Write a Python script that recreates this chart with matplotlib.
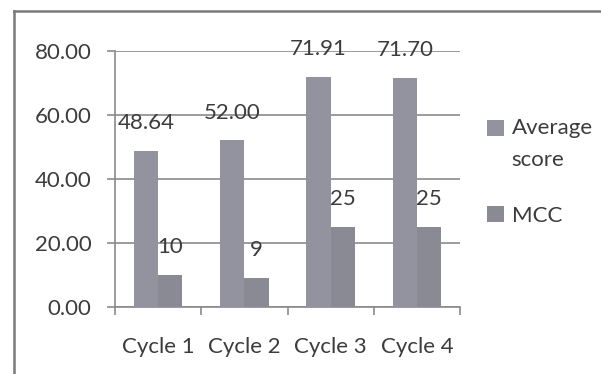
import numpy as np
import matplotlib
matplotlib.use("Agg")
import matplotlib.pyplot as plt
from matplotlib.lines import Line2D
from matplotlib.patches import Rectangle
from matplotlib.legend_handler import HandlerPatch, update_from_first_child

cycles = ["Cycle 1", "Cycle 2", "Cycle 3", "Cycle 4"]
avg_score = [48.64, 52.00, 71.91, 71.70]
mcc = [10, 9, 25, 25]
avg_labels = ["48.64", "52.00", "71.91", "71.70"]
mcc_labels = ["10", "9", "25", "25"]
y_ticks = [0, 20, 40, 60, 80]

plt.rcParams['font.family'] = ['Lato', 'DejaVu Sans']
txt = '#3c3c3c'
fs = 16

fig = plt.figure(figsize=(6.01, 3.74), dpi=100)
ax = fig.add_axes([115/601, 1-306.7/374, 345/601, (306.7-51)/374])

x = np.arange(len(cycles))
w = 0.28
b1 = ax.bar(x - w/2, avg_score, w, color='#93939f', label='Average\nscore', zorder=3)
b2 = ax.bar(x + w/2, mcc, w, color='#8a8a95', label='MCC', zorder=3)

# data labels above the bars
for xi, v, s in zip(x - w/2, avg_score, avg_labels):
    ax.annotate(s, (xi, v), xytext=(0, 20), textcoords='offset points',
                ha='center', va='center', fontsize=fs, color=txt, zorder=4)
for xi, v, s in zip(x + w/2, mcc, mcc_labels):
    ax.annotate(s, (xi, v), xytext=(0, 20), textcoords='offset points',
                ha='center', va='center', fontsize=fs, color=txt, zorder=4)

ax.set_xlim(-0.5, 3.5)
ax.set_ylim(0, 80)
ax.set_yticks(y_ticks)
ax.set_yticklabels([f"{t:.2f}" for t in y_ticks])
ax.yaxis.grid(True, color='#8a8a8a', lw=1.2, zorder=0)
ax.tick_params(axis='y', length=6, width=1.2, color='#8a8a8a', pad=11, labelsize=fs, labelcolor=txt)

# category ticks between groups, labels at centers
ax.set_xticks(np.arange(-0.5, 4, 1))
ax.set_xticklabels([])
ax.set_xticks(x, minor=True)
ax.set_xticklabels(cycles, minor=True)
ax.tick_params(axis='x', which='major', length=6, width=1.2, color='#8a8a8a')
ax.tick_params(axis='x', which='minor', length=0, pad=22, labelsize=fs, labelcolor=txt)

for sp in ['top', 'right']:
    ax.spines[sp].set_visible(False)
for sp in ['left', 'bottom']:
    ax.spines[sp].set_color('#8a8a8a')
    ax.spines[sp].set_linewidth(1.2)

# square next to the first line of a two-line label
def top_square(legend, orig_handle, xdescent, ydescent, width, height, fontsize):
    return Rectangle((-xdescent, -ydescent + 12), width, height)

leg = ax.legend(handles=[b1, b2], loc='upper left', frameon=False, borderpad=0,
                bbox_to_anchor=(476/601, 1-107/374), bbox_transform=fig.transFigure,
                fontsize=fs, labelcolor=txt, handlelength=0.75, handleheight=0.75,
                handletextpad=0.35, labelspacing=1.6,
                handler_map={b1: HandlerPatch(patch_func=top_square,
                                              update_func=update_from_first_child)})
for t in leg.get_texts():
    t.set_linespacing(1.75)

# outer chart border
bc = '#7a7a7a'
fig.add_artist(Line2D([14/601, 14/601], [0, 1-11/374], color=bc, lw=1.8))
fig.add_artist(Line2D([14/601, 1], [1-11/374, 1-11/374], color=bc, lw=1.8))

fig.savefig("out.png", dpi=100)
